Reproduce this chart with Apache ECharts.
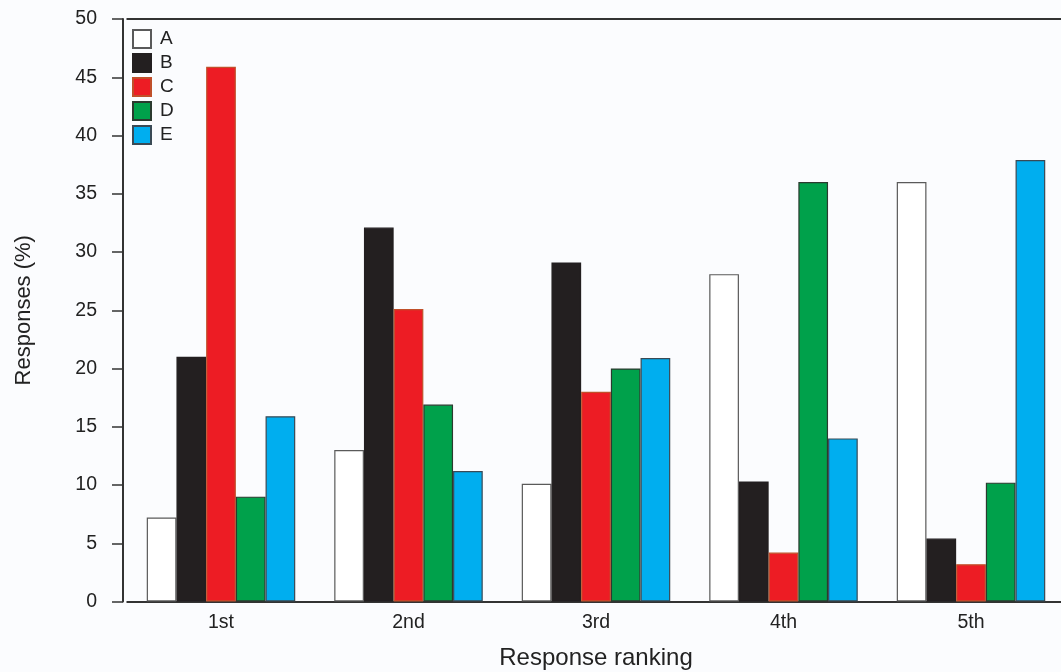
<!DOCTYPE html>
<html><head><meta charset="utf-8">
<script src="https://cdn.jsdelivr.net/npm/echarts@6/dist/echarts.min.js"></script>
<style>html,body{margin:0;padding:0;background:#fbfcfe;}#c{width:1061px;height:672px;}</style>
</head><body><div id="c"></div>
<script>
const categories = ['1st', '2nd', '3rd', '4th', '5th'];
const seriesNames = ['A', 'B', 'C', 'D', 'E'];
const valuesA = [7.2, 13.0, 10.1, 28.1, 36.0];
const valuesB = [21.0, 32.1, 29.1, 10.3, 5.4];
const valuesC = [45.9, 25.1, 18.0, 4.2, 3.2];
const valuesD = [9.0, 16.9, 20.0, 36.0, 10.2];
const valuesE = [15.9, 11.2, 20.9, 14.0, 37.9];
const yTicks = [0, 5, 10, 15, 20, 25, 30, 35, 40, 45, 50];

const allValues = [valuesA, valuesB, valuesC, valuesD, valuesE];
const fills = ['#ffffff', '#231f20', '#ed1c24', '#00a14b', '#00aeef'];
const borders = ['#5a5a5a', '#231f20', '#c0502a', '#2b3a2f', '#3a4a55'];
const font = 'Liberation Sans, Arial, sans-serif';

const chart = echarts.init(document.getElementById('c'));
chart.setOption({
  backgroundColor: '#fbfcfe',
  animation: false,
  grid: { left: 127.25, right: -3.75, top: 19, bottom: 70.5, containLabel: false, outerBoundsMode: 'none' },
  legend: {
    orient: 'vertical', left: 127, top: 24, itemWidth: 18, itemHeight: 18, itemGap: 4,
    icon: 'rect',
    data: seriesNames,
    textStyle: { fontFamily: font, fontSize: 19, color: '#222', padding: [0, 0, 0, 4] }
  },
  xAxis: [{
    type: 'category', data: categories, position: 'bottom',
    axisLine: { lineStyle: { color: '#333', width: 2 } },
    axisTick: { show: false },
    axisLabel: { fontFamily: font, fontSize: 19.5, color: '#222', margin: 11 },
    name: 'Response ranking', nameLocation: 'middle', nameGap: 45,
    nameTextStyle: { fontFamily: font, fontSize: 24, color: '#222' }
  }, {
    type: 'category', data: categories, position: 'top',
    axisLine: { lineStyle: { color: '#333', width: 2 } },
    axisTick: { show: false }, axisLabel: { show: false }
  }],
  yAxis: {
    type: 'value', min: yTicks[0], max: yTicks[yTicks.length - 1], interval: 5, offset: 4.25,
    axisLine: { show: true, lineStyle: { color: '#333', width: 2 } },
    axisTick: { show: true, length: 11, lineStyle: { color: '#333', width: 1.5 } },
    splitLine: { show: false },
    axisLabel: { fontFamily: font, fontSize: 19.5, color: '#222', margin: 26 },
    name: 'Responses (%)', nameLocation: 'middle', nameGap: 88,
    nameTextStyle: { fontFamily: font, fontSize: 22, color: '#222' }
  },
  series: seriesNames.map((n, i) => ({
    name: n, type: 'bar', data: allValues[i], barWidth: 29.7, barGap: '0%',
    itemStyle: { color: fills[i], borderColor: borders[i], borderWidth: 1.2 }
  }))
});
</script></body></html>
